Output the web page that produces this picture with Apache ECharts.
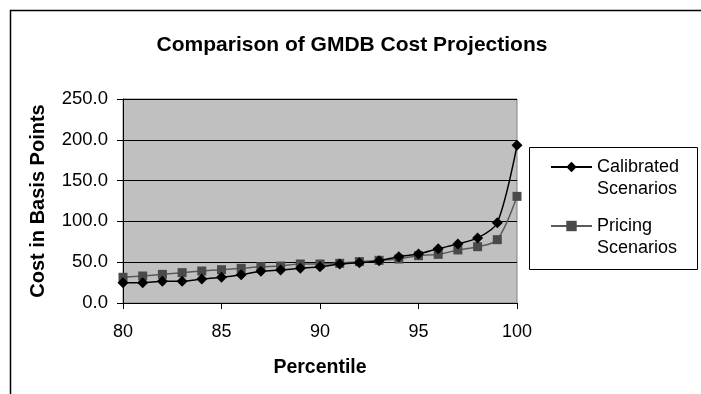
<!DOCTYPE html>
<html>
<head>
<meta charset="utf-8">
<script src="https://cdn.jsdelivr.net/npm/echarts@6/dist/echarts.min.js"></script>
<style>
  html, body { margin: 0; padding: 0; background: #fff; }
  #chart { width: 701px; height: 394px; }
</style>
</head>
<body>
<div id="chart"></div>
<script>
// Percentiles 80..100 and projected GMDB cost (basis points) per scenario set
const percentiles = [80, 81, 82, 83, 84, 85, 86, 87, 88, 89, 90, 91, 92, 93, 94, 95, 96, 97, 98, 99, 100];
const calibratedScenarios = [24.9, 24.9, 26.6, 26.6, 29.4, 31.5, 34.7, 38.8, 40.4, 42.5, 44.5, 47.8, 49.4, 51.9, 56.8, 60.0, 66.6, 72.3, 79.7, 98.4, 193.2];
const pricingScenarios = [31.5, 33.1, 35.1, 37.2, 39.2, 40.8, 42.5, 44.5, 45.3, 47.8, 47.8, 48.6, 50.7, 52.3, 53.9, 58.0, 59.6, 65.0, 69.0, 77.6, 130.7];
const xTicks = [80, 85, 90, 95, 100];
const yTicks = [0, 50, 100, 150, 200, 250];

const FONT = 'Liberation Sans, Arial, sans-serif';
const chart = echarts.init(document.getElementById('chart'), null, { renderer: 'canvas' });

function pairs(values) {
  return percentiles.map((p, i) => [p, values[i]]);
}

chart.setOption({
  animation: false,
  backgroundColor: '#ffffff',
  title: {
    text: 'Comparison of GMDB Cost Projections',
    left: 347,
    top: 30,
    textAlign: 'center',
    textStyle: { fontFamily: FONT, fontSize: 21, fontWeight: 'bold', color: '#000' }
  },
  graphic: [
    {
      // outer chart frame (open to the right and bottom)
      type: 'rect',
      shape: { x: 10.5, y: 10.5, width: 800, height: 500 },
      style: { fill: null, stroke: '#000', lineWidth: 1.5 },
      silent: true
    },
    {
      // legend box
      type: 'rect',
      shape: { x: 529.5, y: 147.5, width: 168, height: 122 },
      style: { fill: '#fff', stroke: '#000', lineWidth: 1 },
      silent: true
    }
  ],
  legend: {
    left: 550,
    top: 134,
    padding: 0,
    orient: 'vertical',
    itemWidth: 41,
    itemHeight: 13,
    itemGap: -7,
    // a blank leading line keeps the marker level with the first text line
    formatter: name => ' \n' + name,
    textStyle: { fontFamily: FONT, fontSize: 18, color: '#000', lineHeight: 22 },
    data: [
      { name: 'Calibrated\nScenarios' },
      { name: 'Pricing\nScenarios' }
    ]
  },
  grid: {
    left: 123,
    right: 184,
    top: 99,
    bottom: 91,
    show: true,
    backgroundColor: '#c0c0c0',
    borderColor: '#808080',
    borderWidth: 1
  },
  xAxis: {
    type: 'value',
    min: 80,
    max: 100,
    interval: 5,
    name: 'Percentile',
    nameLocation: 'middle',
    nameGap: 55,
    nameTextStyle: { fontFamily: FONT, fontSize: 19.5, fontWeight: 'bold', color: '#000' },
    axisLine: { show: true, onZero: false, lineStyle: { color: '#000', width: 1 } },
    axisTick: { show: true, length: 6, lineStyle: { color: '#000' } },
    axisLabel: {
      fontFamily: FONT, fontSize: 18, color: '#000', margin: 20,
      formatter: v => (xTicks.includes(v) ? String(v) : '')
    },
    splitLine: { show: false }
  },
  yAxis: {
    type: 'value',
    min: 0,
    max: 250,
    interval: 50,
    name: 'Cost in Basis Points',
    nameLocation: 'middle',
    nameGap: 75,
    nameTextStyle: { fontFamily: FONT, fontSize: 20, fontWeight: 'bold', color: '#000' },
    axisLine: { show: true, lineStyle: { color: '#000', width: 1 } },
    axisTick: { show: true, length: 6, lineStyle: { color: '#000' } },
    axisLabel: {
      fontFamily: FONT, fontSize: 18.5, color: '#000', margin: 15,
      formatter: v => (yTicks.includes(v) ? v.toFixed(1) : '')
    },
    splitLine: { show: true, lineStyle: { color: '#000', width: 1 } }
  },
  series: [
    {
      name: 'Calibrated\nScenarios',
      type: 'line',
      data: pairs(calibratedScenarios),
      smooth: 0.3,
      symbol: 'diamond',
      symbolSize: 11,
      itemStyle: { color: '#000' },
      lineStyle: { color: '#000', width: 1.5 },
      z: 3
    },
    {
      name: 'Pricing\nScenarios',
      type: 'line',
      data: pairs(pricingScenarios),
      smooth: 0.3,
      symbol: 'rect',
      symbolSize: 9,
      itemStyle: { color: '#4a4a4a' },
      lineStyle: { color: '#5a5a5a', width: 1.5 },
      z: 2
    }
  ]
});
</script>
</body>
</html>
